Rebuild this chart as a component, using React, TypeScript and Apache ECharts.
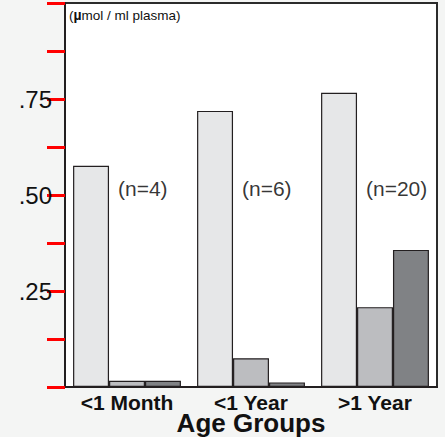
import React, { useEffect, useRef } from "react";
import * as echarts from "echarts";

const categories = ["<1 Month", "<1 Year", ">1 Year"];
const lightValues = [0.576, 0.719, 0.766];
const midValues = [0.016, 0.075, 0.208];
const darkValues = [0.016, 0.012, 0.357];
const sampleLabels = ["(n=4)", "(n=6)", "(n=20)"];
const sampleLabelLevel = [0.518, 0.518, 0.518];
const yLabelValues = [0.25, 0.5, 0.75];

const FONT = "'Liberation Sans', Arial, Helvetica, sans-serif";
const EDGE = "#231f20";

export default function App() {
  const ref = useRef<HTMLDivElement>(null);
  useEffect(() => {
    if (!ref.current) return;
    const chart = echarts.init(ref.current, null, { renderer: "svg" });
    const barStyle = (color: string) => ({ color, borderColor: EDGE, borderWidth: 1.2 });
    chart.setOption({
      animation: false,
      backgroundColor: "#f4f5f4",
      grid: {
        left: 65,
        right: 8,
        top: 3,
        bottom: 50,
        outerBoundsMode: "none",
        containLabel: false,
        show: true,
        backgroundColor: "#ffffff",
        borderColor: "#2b2b2b",
        borderWidth: 2,
      },
      xAxis: {
        type: "category",
        data: categories,
        axisLine: { show: true, lineStyle: { color: EDGE, width: 2 } },
        axisTick: { show: false },
        axisLabel: {
          color: "#111111",
          fontFamily: FONT,
          fontWeight: "bold",
          fontSize: 21,
          margin: 5,
        },
        name: "Age Groups",
        nameLocation: "middle",
        nameGap: 23,
        nameMoveOverlap: false,
        nameTextStyle: { color: "#111111", fontFamily: FONT, fontWeight: "bold", fontSize: 26 },
      },
      yAxis: {
        type: "value",
        min: 0,
        max: 1,
        interval: 0.125,
        splitLine: { show: false },
        axisLine: { show: true, lineStyle: { color: EDGE, width: 2 } },
        axisTick: { show: true, length: 18, lineStyle: { color: "#ff0000", width: 3 } },
        axisLabel: {
          formatter: (v: number) =>
            yLabelValues.some((l) => Math.abs(l - v) < 1e-9) ? v.toFixed(2).replace(/^0/, "") : "",
          color: "#111111",
          fontFamily: FONT,
          fontSize: 24,
          margin: 13,
        },
      },
      graphic: [
        {
          type: "text",
          left: 69,
          top: 8,
          style: {
            text: "({b|µ}mol / ml plasma)",
            fontFamily: FONT,
            fontSize: 13.5,
            fill: "#111111",
            rich: { b: { fontWeight: "bold", fontSize: 14, fontFamily: FONT, fill: "#111111" } },
          },
        },
      ],
      series: [
        {
          type: "bar",
          data: lightValues,
          barGap: "0%",
          barCategoryGap: "13%",
          itemStyle: barStyle("#e6e7e8"),
        },
        { type: "bar", data: midValues, itemStyle: barStyle("#bcbdc0") },
        { type: "bar", data: darkValues, itemStyle: barStyle("#808285") },
        {
          type: "scatter",
          symbolSize: 0,
          data: sampleLabels.map((t, i) => ({ value: [i, sampleLabelLevel[i]], name: t })),
          label: {
            show: true,
            position: "inside",
            align: "left",
            offset: [-9, 0],
            formatter: (p: any) => p.name,
            color: "#000000",
            fontFamily: FONT,
            fontSize: 21,
          },
          silent: true,
        },
      ],
    });
    return () => chart.dispose();
  }, []);
  return (
    <div
      ref={ref}
      style={{ position: "fixed", left: 0, top: 0, width: 445, height: 437 }}
    />
  );
}
